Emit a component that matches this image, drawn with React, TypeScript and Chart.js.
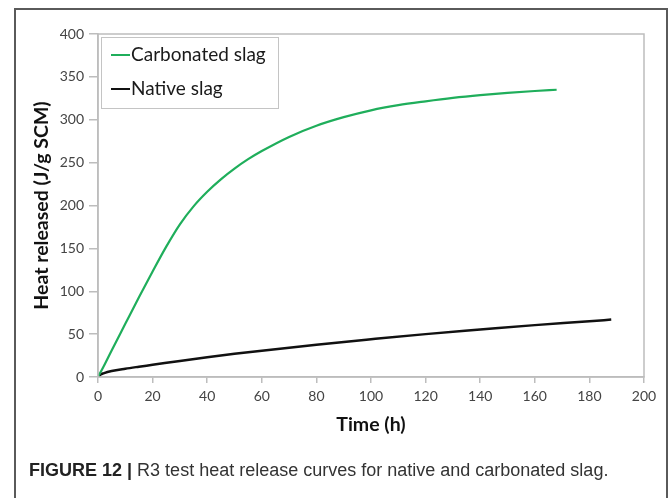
import React, { useEffect, useRef } from "react";
import { Chart, registerables } from "chart.js";

Chart.register(...registerables);

const carbTime = [0, 2, 5, 10, 15, 20, 25, 30, 35, 40, 45, 50, 55, 60, 70, 80, 90, 100, 110, 120, 130, 140, 150, 160, 168];
const carbHeat = [0, 12, 31, 62, 93, 123, 152, 178, 199, 216, 230.5, 243, 254, 263.5, 280, 293, 303, 311, 317, 321.5, 325.5, 328.7, 331.3, 333.5, 335];
const nativeTime = [0, 1, 2, 5, 10, 15, 20, 30, 40, 50, 60, 80, 100, 120, 140, 160, 180, 188];
const nativeHeat = [0, 3, 4.3, 7, 9.7, 12, 14.2, 18.7, 23, 27, 30.7, 37.7, 44, 50, 55.3, 60.5, 65, 67];
const seriesLabels = ["Carbonated slag", "Native slag"];
const seriesColors = ["#1fae5b", "#111111"];
const xTitle = "Time (h)";
const yTitle = "Heat released (J/g SCM)";
const caption = "R3 test heat release curves for native and carbonated slag.";

const FONT = "Lato, 'Open Sans', sans-serif";

const boxPlugin = {
  id: "boxAndLegend",
  afterDraw(chart: any) {
    const { ctx, chartArea } = chart;
    ctx.save();
    ctx.strokeStyle = "#bdbdbd";
    ctx.lineWidth = 1.5;
    ctx.strokeRect(chartArea.left, chartArea.top, chartArea.right - chartArea.left, chartArea.bottom - chartArea.top);
    // legend
    const lx = chartArea.left + 3;
    const ly = chartArea.top + 3;
    ctx.fillStyle = "#ffffff";
    ctx.fillRect(lx, ly, 177, 71);
    ctx.strokeStyle = "#c4c4c4";
    ctx.lineWidth = 1;
    ctx.strokeRect(lx + 0.5, ly + 0.5, 177, 71);
    ctx.font = "19px " + FONT;
    ctx.textBaseline = "middle";
    ctx.textAlign = "left";
    chart.data.datasets.forEach((ds: any, i: number) => {
      const y = ly + 18 + i * 34;
      ctx.strokeStyle = ds.borderColor;
      ctx.lineWidth = 2;
      ctx.beginPath();
      ctx.moveTo(lx + 10, y);
      ctx.lineTo(lx + 29, y);
      ctx.stroke();
      ctx.fillStyle = "#1a1a1a";
      ctx.fillText(ds.label, lx + 30, y);
    });
    ctx.restore();
  },
};

export default function App() {
  const ref = useRef<HTMLCanvasElement>(null);
  useEffect(() => {
    if (!ref.current) return;
    const chart = new Chart(ref.current, {
      type: "line",
      data: {
        datasets: [
          {
            label: seriesLabels[0],
            data: carbTime.map((t, i) => ({ x: t, y: carbHeat[i] })),
            borderColor: seriesColors[0],
            borderWidth: 2.2,
            pointRadius: 0,
            cubicInterpolationMode: "monotone",
          },
          {
            label: seriesLabels[1],
            data: nativeTime.map((t, i) => ({ x: t, y: nativeHeat[i] })),
            borderColor: seriesColors[1],
            borderWidth: 2.5,
            pointRadius: 0,
            cubicInterpolationMode: "monotone",
          },
        ],
      },
      options: {
        responsive: false,
        animation: false,
        layout: { padding: { left: 0, right: 25, top: 34, bottom: 61 } },
        plugins: { legend: { display: false }, tooltip: { enabled: false } },
        scales: {
          x: {
            type: "linear",
            min: 0,
            max: 200,
            ticks: { stepSize: 20, color: "#444", font: { family: FONT, size: 14 }, padding: 5, maxRotation: 0 },
            grid: { drawOnChartArea: false, drawTicks: true, tickLength: 6, color: "#bdbdbd", lineWidth: 1.5 },
            border: { display: true, color: "#bdbdbd", width: 1.5 },
            title: { display: true, text: xTitle, color: "#111", font: { family: FONT, size: 19.5, weight: "bold" }, padding: { top: 0, bottom: 1 } },
            afterFit: (s: any) => { s.height = 60; },
          },
          y: {
            min: 0,
            max: 400,
            ticks: { stepSize: 50, color: "#444", font: { family: FONT, size: 14 }, padding: 5 },
            grid: { drawOnChartArea: false, drawTicks: true, tickLength: 9, color: "#bdbdbd", lineWidth: 1.5 },
            border: { display: true, color: "#bdbdbd", width: 1.5 },
            title: { display: true, text: yTitle, color: "#111", font: { family: FONT, size: 19.5, weight: "bold" }, padding: { top: 30, bottom: 0 } },
            afterFit: (s: any) => { s.width = 98; },
          },
        },
      },
      plugins: [boxPlugin],
    });
    return () => chart.destroy();
  }, []);
  return (
    <div>
      <div
        style={{
          position: "absolute",
          left: 14,
          top: 8,
          width: 654,
          height: 510,
          border: "2px solid #5a5a5a",
          boxSizing: "border-box",
        }}
      />
      <canvas ref={ref} width={669} height={498} style={{ position: "absolute", left: 0, top: 0 }} />
      <div
        style={{
          position: "absolute",
          left: 29,
          top: 460,
          fontFamily: "'Liberation Sans', Arial, sans-serif",
          fontSize: 18,
          color: "#333",
          whiteSpace: "nowrap",
        }}
      >
        <b style={{ color: "#222" }}>FIGURE 12</b> <span style={{ color: "#222", fontWeight: 600 }}>|</span> {caption}
      </div>
    </div>
  );
}
